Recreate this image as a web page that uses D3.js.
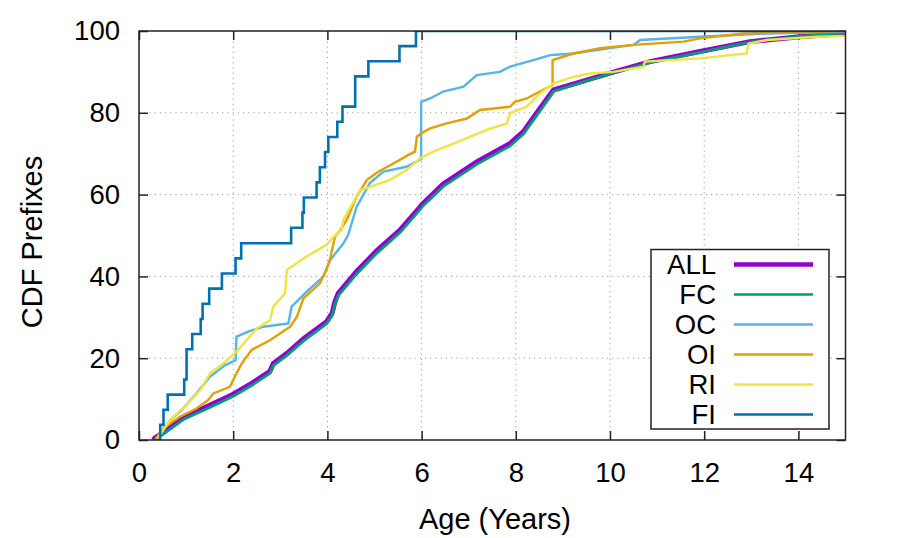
<!DOCTYPE html>
<html>
<head>
<meta charset="utf-8">
<script src="https://cdn.jsdelivr.net/npm/d3@7"></script>
<style>
  body { margin: 0; background: #fff; }
  svg { font-family: "Liberation Sans", Arial, Helvetica, sans-serif; }
</style>
</head>
<body>
<script>
// tick values
var xTicks = [0, 2, 4, 6, 8, 10, 12, 14];
var yTicks = [0, 20, 40, 60, 80, 100];

// series names, in plot order
var names = ['ALL', 'FC', 'OC', 'OI', 'RI', 'FI'];

// [age in years, cdf %]
var ALL = [[0.30,0],[0.34,0.5],[0.52,1.9],[0.94,5.5],[1.49,8.4],[2.0,11.2],[2.4,13.9],[2.78,16.8],[2.85,18.7],
  [3.14,21.2],[3.5,24.8],[3.98,28.9],[4.10,31.0],[4.16,33.8],[4.23,35.9],[4.62,41.2],[5.05,46.3],[5.54,51.3],
  [5.97,57.0],[6.0,57.5],[6.46,62.6],[7.17,68.0],[7.88,72.5],[8.16,75.4],[8.44,79.9],[8.69,83.9],[8.80,85.6],
  [9.50,88.0],[10.0,89.7],[10.85,92.5],[11.91,95.0],[12.97,97.4],[14.03,98.6],[15,99.4]];
var FC = [[0.34,0],[0.52,1.5],[0.94,5.0],[1.49,7.9],[2.0,10.7],[2.4,13.4],[2.78,16.3],[2.85,18.2],[3.14,20.7],
  [3.5,24.3],[3.98,28.4],[4.10,30.4],[4.16,33.2],[4.23,35.3],[4.62,40.6],[5.05,45.7],[5.54,50.7],[5.97,56.4],
  [6.0,56.9],[6.46,62.0],[7.17,67.4],[7.88,71.9],[8.16,74.8],[8.44,79.3],[8.69,83.3],[8.80,85.2],[9.50,87.8],
  [10.0,89.5],[10.85,92.3],[11.91,94.8],[12.97,97.3],[14.03,98.7],[15,99.6]];
var OC = [[0.37,0],[0.66,4.9],[0.87,6.9],[1.22,11.4],[1.51,15.5],[1.83,18.3],[2.05,19.5],[2.07,25.3],[2.32,26.5],
  [2.64,27.7],[3.17,28.5],[3.24,32.6],[3.56,36.3],[3.91,39.9],[4.06,44.0],[4.34,48.1],[4.44,50.1],[4.62,57.0],
  [4.9,62.8],[5.19,65.6],[5.68,66.8],[5.99,68.7],[5.99,82.7],[6.18,83.5],[6.46,85.2],[6.89,86.4],[7.17,89.2],
  [7.66,90.0],[7.88,91.3],[8.37,92.9],[8.73,94.1],[9.22,94.5],[10.0,95.8],[10.5,96.6],[10.64,97.8],[11.91,98.6],
  [13.33,99.4],[15,99.8]];
var OI = [[0.34,0],[0.52,2.9],[0.87,5.7],[1.22,7.7],[1.47,9.8],[1.58,11.4],[1.93,13.0],[2.07,16.3],[2.18,18.7],
  [2.39,22.0],[2.78,24.4],[3.21,27.7],[3.35,30.1],[3.49,34.6],[3.84,38.3],[3.98,41.6],[4.06,44.4],[4.16,49.7],
  [4.27,51.3],[4.41,53.8],[4.62,59.5],[4.84,63.6],[5.08,65.6],[5.40,67.6],[5.72,69.7],[5.86,70.5],[5.90,74.2],
  [6.0,75.0],[6.18,76.2],[6.53,77.4],[6.96,78.6],[7.24,80.7],[7.88,81.5],[7.98,82.7],[8.23,83.5],[8.51,85.2],
  [8.78,86.8],[8.78,92.9],[9.22,94.5],[9.79,95.8],[10.5,96.6],[11.56,97.4],[11.91,98.2],[12.83,99.4],
  [14.4,99.8],[15,100]];
var RI = [[0.37,0],[0.66,4.9],[1.01,8.6],[1.3,12.2],[1.51,16.3],[1.79,18.7],[2.07,21.6],[2.5,27.3],[2.78,29.3],
  [2.85,32.6],[3.10,35.9],[3.14,41.6],[3.49,44.4],[3.98,47.7],[4.13,49.7],[4.30,51.3],[4.34,53.8],[4.69,61.1],
  [4.9,61.9],[5.33,63.6],[5.68,66.0],[5.97,68.9],[6.32,70.9],[6.6,72.1],[6.96,73.8],[7.38,75.8],[7.81,77.4],
  [7.88,79.9],[8.23,81.5],[8.51,84.7],[8.8,87.2],[9.22,88.8],[9.58,89.6],[10.07,90.0],[10.71,91.3],[10.74,92.5],
  [11.91,93.3],[12.9,94.5],[12.94,96.9],[13.33,97.8],[14.4,98.6],[15,98.8]];
// FI is a step function (value holds from the given age on)
var FI = [[0.34,0],[0.45,3.7],[0.52,7.4],[0.61,11.1],[0.96,14.8],[1.01,22.2],[1.13,25.9],[1.31,29.6],[1.35,33.3],
  [1.49,37.0],[1.76,40.7],[2.05,44.4],[2.17,48.1],[3.23,51.9],[3.47,55.6],[3.50,59.3],[3.77,63.0],[3.84,66.7],
  [3.95,70.4],[4.02,74.1],[4.21,77.8],[4.32,81.5],[4.59,88.9],[4.87,92.6],[5.53,96.3],[5.88,100],[15,100]];

var series = [ALL, FC, OC, OI, RI, FI];
var colors = ['#9400d3', '#009e73', '#56b4e9', '#e69f00', '#f0e442', '#0072b2'];
var widths = [5, 2.8, 2.4, 2.4, 2.4, 2.6];

var width = 897, height = 538;
var mLeft = 139, mRight = 845.5, mTop = 31, mBottom = 440;

var svg = d3.select('body').append('svg')
  .attr('width', width)
  .attr('height', height);

var x = d3.scaleLinear().domain([0, 15]).range([mLeft, mRight]);
var y = d3.scaleLinear().domain([0, 100]).range([mBottom, mTop]);

svg.append('defs').append('clipPath').attr('id', 'clip')
  .append('rect')
    .attr('x', mLeft).attr('y', mTop)
    .attr('width', mRight - mLeft).attr('height', mBottom - mTop);

// grid
var grid = svg.append('g').attr('class', 'grid');
grid.selectAll('line.gx')
  .data(xTicks.filter(function(d) { return d > 0; }))
  .enter().append('line')
    .attr('class', 'gx')
    .attr('x1', function(d) { return x(d); })
    .attr('x2', function(d) { return x(d); })
    .attr('y1', mTop).attr('y2', mBottom);
grid.selectAll('line.gy')
  .data(yTicks.filter(function(d) { return d > 0 && d < 100; }))
  .enter().append('line')
    .attr('class', 'gy')
    .attr('x1', mLeft).attr('x2', mRight)
    .attr('y1', function(d) { return y(d); })
    .attr('y2', function(d) { return y(d); });
grid.selectAll('line')
  .attr('stroke', '#9a9a9a')
  .attr('stroke-width', 1)
  .attr('stroke-dasharray', '1.2,4');

// axes, ticks pointing inwards
var fs = '27.5px';
var gx = svg.append('g').attr('transform', 'translate(0,' + mBottom + ')')
  .call(d3.axisBottom(x).tickValues(xTicks).tickSize(-9).tickPadding(22));
var gy = svg.append('g').attr('transform', 'translate(' + mLeft + ',0)')
  .call(d3.axisLeft(y).tickValues(yTicks).tickSize(-9).tickPadding(19));
var gxt = svg.append('g').attr('transform', 'translate(0,' + mTop + ')')
  .call(d3.axisTop(x).tickValues(xTicks).tickSize(-9).tickFormat(''));
var gyr = svg.append('g').attr('transform', 'translate(' + mRight + ',0)')
  .call(d3.axisRight(y).tickValues(yTicks).tickSize(-9).tickFormat(''));
[gx, gy, gxt, gyr].forEach(function(g) {
  g.select('.domain').remove();
  g.selectAll('line').attr('stroke', '#222').attr('stroke-width', 1.5);
  g.selectAll('text').attr('font-size', fs).attr('fill', '#000')
    .style('font-family', '"Liberation Sans", Arial, sans-serif');
});

// lines
var line = d3.line()
  .x(function(d) { return x(d[0]); })
  .y(function(d) { return y(d[1]); });
var stepLine = d3.line()
  .x(function(d) { return x(d[0]); })
  .y(function(d) { return y(d[1]); })
  .curve(d3.curveStepAfter);

var plot = svg.append('g').attr('clip-path', 'url(#clip)');
series.forEach(function(s, i) {
  plot.append('path')
    .attr('d', names[i] == 'FI' ? stepLine(s) : line(s))
    .attr('fill', 'none')
    .attr('stroke', colors[i])
    .attr('stroke-width', widths[i])
    .attr('stroke-linejoin', 'miter');
});

// border
svg.append('rect')
  .attr('x', mLeft).attr('y', mTop)
  .attr('width', mRight - mLeft).attr('height', mBottom - mTop)
  .attr('fill', 'none')
  .attr('stroke', '#222')
  .attr('stroke-width', 1.5);

// axis titles
svg.append('text')
  .attr('x', 495).attr('y', 529)
  .attr('text-anchor', 'middle')
  .attr('font-size', '29px')
  .text('Age (Years)');
svg.append('text')
  .attr('transform', 'translate(42,242) rotate(-90)')
  .attr('text-anchor', 'middle')
  .attr('font-size', '29px')
  .text('CDF Prefixes');

// legend
var legend = svg.append('g');
legend.append('rect')
  .attr('x', 651).attr('y', 249.5)
  .attr('width', 178).attr('height', 179.5)
  .attr('fill', '#fff')
  .attr('stroke', '#222')
  .attr('stroke-width', 1.5);
var row = legend.selectAll('g.row')
  .data(names)
  .enter().append('g')
    .attr('transform', function(d, i) { return 'translate(0,' + (264.5 + i * 30) + ')'; });
row.append('text')
  .attr('x', 716)
  .attr('dy', '0.36em')
  .attr('text-anchor', 'end')
  .attr('font-size', fs)
  .text(function(d) { return d; });
row.append('line')
  .attr('x1', 734).attr('x2', 813)
  .attr('stroke', function(d, i) { return colors[i]; })
  .attr('stroke-width', function(d, i) { return i == 0 ? 4.5 : 2.6; });
</script>
</body>
</html>
